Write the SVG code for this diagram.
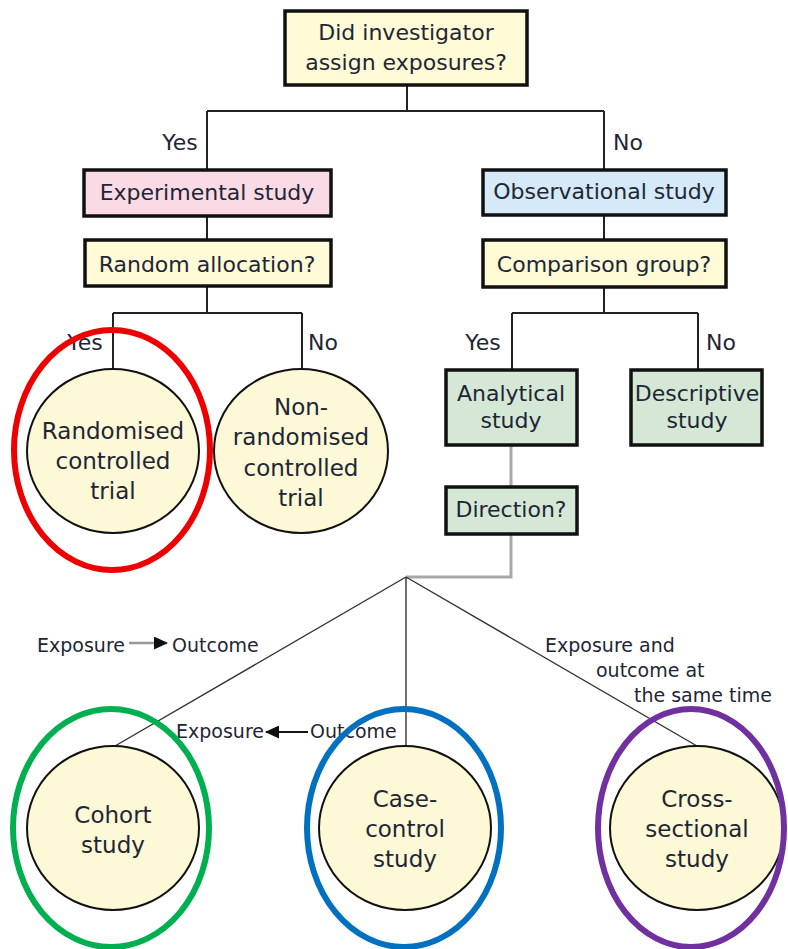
<svg xmlns="http://www.w3.org/2000/svg" width="788" height="949" viewBox="0 0 788 949">
<defs>
<style>
text{font-family:"DejaVu Sans","Liberation Sans",sans-serif;fill:#1e2636;text-anchor:middle}
.t{font-size:22px}
.c{font-size:23px}
.s{font-size:19px;text-anchor:start}
.box{stroke:#111;stroke-width:3.5}
.yel{fill:#fffbd6}
.pink{fill:#fadbe5}
.blue{fill:#d6e9f8}
.green{fill:#d5e8d5}
.circ{fill:#fdf8d5;stroke:#111;stroke-width:2}
.ln{stroke:#222;stroke-width:2;fill:none}
.gl{stroke:#a8a8a8;stroke-width:3;fill:none}
.thin{stroke:#333;stroke-width:1.4;fill:none}
.hl{fill:none;stroke-width:6}
</style>
<marker id="ah" viewBox="0 0 14 13" refX="13" refY="6.5" markerWidth="14" markerHeight="13" markerUnits="userSpaceOnUse" orient="auto"><path d="M0,0L14,6.5L0,13z" fill="#111"/></marker>
</defs>
<rect width="788" height="949" fill="#fff"/>
<g id="connectors">
<path class="ln" d="M407,85V111M207,111H604M207,111V170M604,111V170"/>
<path class="ln" d="M207,216V240M604,215V240"/>
<path class="ln" d="M207,286V313M113,313H302M113,313V370M302,313V370"/>
<path class="ln" d="M604,287V313M512,313H698M512,313V370M698,313V370"/>
<path class="gl" d="M511,445V487M511,534V577H406"/>
<path class="thin" d="M406,577L115,746M406,577V747M406,577L697,746"/>
</g>
<g id="labels">
<text class="t" x="180" y="150">Yes</text>
<text class="t" x="628" y="150">No</text>
<text class="t" x="85" y="350">Yes</text>
<text class="t" x="323" y="350">No</text>
<text class="t" x="483" y="350">Yes</text>
<text class="t" x="721" y="350">No</text>
<text class="s" x="37" y="652">Exposure</text>
<line x1="129" y1="643" x2="167" y2="643" stroke="#999" stroke-width="2.4" marker-end="url(#ah)"/>
<text class="s" x="172" y="652">Outcome</text>
<text class="s" x="176" y="738">Exposure</text>
<line x1="308" y1="732" x2="266" y2="732" stroke="#111" stroke-width="2" marker-end="url(#ah)"/>
<text class="s" x="310" y="738">Outcome</text>
<text class="s" x="545" y="652">Exposure and</text>
<text class="s" x="596" y="677">outcome at</text>
<text class="s" x="634" y="702">the same time</text>
</g>
<g id="n-assign">
<rect class="box yel" x="285" y="11" width="242" height="74"/>
<text class="t" x="406" y="40">Did investigator</text>
<text class="t" x="406" y="70">assign exposures?</text>
</g>
<g id="n-experimental">
<rect class="box pink" x="84" y="170" width="247" height="46"/>
<text class="t" x="207" y="200">Experimental study</text>
</g>
<g id="n-random">
<rect class="box yel" x="85" y="240" width="246" height="46"/>
<text class="t" x="207" y="272">Random allocation?</text>
</g>
<g id="n-observational">
<rect class="box blue" x="483" y="170" width="243" height="45"/>
<text class="t" x="604" y="199">Observational study</text>
</g>
<g id="n-comparison">
<rect class="box yel" x="483" y="240" width="243" height="47"/>
<text class="t" x="604" y="272">Comparison group?</text>
</g>
<g id="n-analytical">
<rect class="box green" x="446" y="370" width="131" height="75"/>
<text class="t" x="511" y="401">Analytical</text>
<text class="t" x="511" y="428">study</text>
</g>
<g id="n-descriptive">
<rect class="box green" x="631" y="370" width="131" height="75"/>
<text class="t" x="697" y="401">Descriptive</text>
<text class="t" x="697" y="428">study</text>
</g>
<g id="n-direction">
<rect class="box green" x="446" y="487" width="131" height="47"/>
<text class="t" x="511" y="517">Direction?</text>
</g>
<g id="n-rct">
<ellipse class="circ" cx="113" cy="451" rx="86" ry="82"/>
<text class="c" x="113" y="439">Randomised</text>
<text class="c" x="113" y="469">controlled</text>
<text class="c" x="113" y="499">trial</text>
</g>
<g id="n-nrct">
<ellipse class="circ" cx="301" cy="451" rx="87" ry="82"/>
<text class="c" x="301" y="415">Non-</text>
<text class="c" x="301" y="445">randomised</text>
<text class="c" x="301" y="476">controlled</text>
<text class="c" x="301" y="506">trial</text>
</g>
<g id="n-cohort">
<ellipse class="circ" cx="113" cy="828" rx="86" ry="82"/>
<text class="c" x="113" y="823">Cohort</text>
<text class="c" x="113" y="853">study</text>
</g>
<g id="n-casecontrol">
<ellipse class="circ" cx="405" cy="828" rx="86" ry="82"/>
<text class="c" x="405" y="807">Case-</text>
<text class="c" x="405" y="837">control</text>
<text class="c" x="405" y="867">study</text>
</g>
<g id="n-crosssectional">
<ellipse class="circ" cx="697" cy="828" rx="87" ry="82"/>
<text class="c" x="697" y="807">Cross-</text>
<text class="c" x="697" y="837">sectional</text>
<text class="c" x="697" y="867">study</text>
</g>
<g id="highlights">
<ellipse class="hl" cx="112" cy="450" rx="98" ry="120" stroke="#ee0000"/>
<ellipse class="hl" cx="111" cy="828" rx="98" ry="119" stroke="#00b050"/>
<ellipse class="hl" cx="404" cy="828" rx="97" ry="119" stroke="#0070c0"/>
<ellipse class="hl" cx="691" cy="828" rx="93" ry="119" stroke="#7030a0"/>
</g>
</svg>
